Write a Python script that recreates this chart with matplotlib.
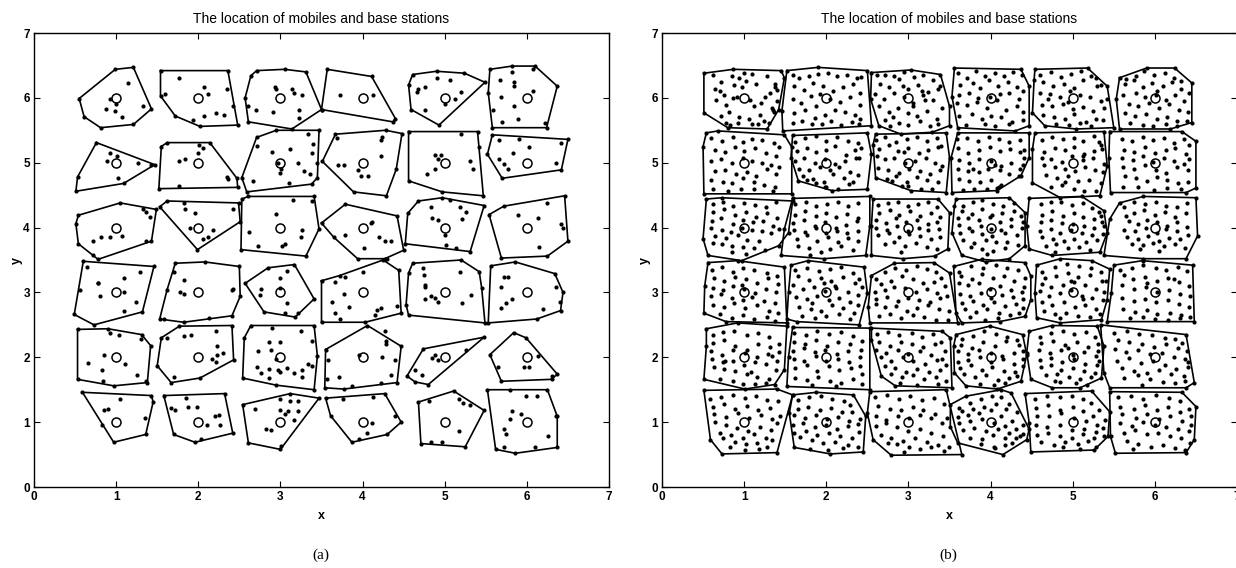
import matplotlib
matplotlib.use("Agg")
import matplotlib.pyplot as plt
import numpy as np

plt.rcParams['font.family'] = ['Liberation Sans', 'DejaVu Sans']

# base stations on a 6 x 6 grid
bs_x = [1, 2, 3, 4, 5, 6]
bs_y = [6, 5, 4, 3, 2, 1]

titulo = "The location of mobiles and base stations"
subtitulos = ["(a)", "(b)"]

# ---- panel (a): cell borders (corner mobiles), row by row from the top ----
hulls_a = [
    [(0.55, 5.99), (0.99, 6.44), (1.21, 6.47), (1.43, 5.83), (1.21, 5.59), (0.81, 5.54), (0.61, 5.71)],
    [(1.54, 6.42), (2.36, 6.42), (2.48, 5.58), (2.02, 5.56), (1.72, 5.72), (1.54, 6.03)],
    [(2.64, 6.34), (2.71, 6.42), (3.05, 6.44), (3.31, 6.40), (3.50, 5.82), (3.14, 5.52), (2.61, 5.63), (2.57, 6.00)],
    [(3.57, 6.44), (4.11, 6.33), (4.40, 5.68), (4.37, 5.63), (3.50, 5.82)],
    [(4.56, 6.20), (4.61, 6.36), (4.90, 6.41), (5.24, 6.38), (5.49, 6.24), (4.93, 5.58), (4.59, 5.82)],
    [(5.53, 6.08), (5.55, 6.44), (5.82, 6.49), (6.10, 6.49), (6.37, 6.18), (6.24, 5.54), (5.58, 5.54)],
    [(0.76, 5.31), (1.47, 4.97), (1.09, 4.68), (0.51, 4.56), (0.53, 4.78)],
    [(1.55, 5.25), (1.62, 5.31), (2.14, 5.31), (2.47, 4.76), (2.48, 4.62), (1.52, 4.60)],
    [(2.53, 4.77), (2.71, 5.39), (2.95, 5.50), (3.47, 5.50), (3.45, 4.77), (3.38, 4.67), (2.59, 4.55)],
    [(3.51, 5.02), (3.67, 5.44), (4.28, 5.50), (4.48, 5.45), (4.41, 4.90), (4.29, 4.49), (3.89, 4.55)],
    [(4.56, 5.48), (5.40, 5.48), (5.47, 4.49), (4.97, 4.55), (4.56, 4.72)],
    [(5.52, 5.13), (5.58, 5.43), (6.50, 5.36), (6.42, 4.89), (5.70, 4.76)],
    [(0.51, 4.06), (0.54, 4.19), (1.05, 4.38), (1.49, 4.28), (1.43, 3.79), (0.78, 3.51), (0.54, 3.75)],
    [(1.53, 4.32), (1.62, 4.41), (2.49, 4.38), (2.51, 4.09), (1.99, 3.66)],
    [(2.53, 4.44), (2.61, 4.48), (3.41, 4.48), (3.47, 3.98), (3.31, 3.56), (2.52, 3.66)],
    [(3.50, 4.07), (3.79, 4.36), (4.42, 4.18), (4.50, 3.65), (4.27, 3.52), (3.94, 3.52), (3.65, 3.85)],
    [(4.55, 4.22), (4.68, 4.41), (4.97, 4.46), (5.48, 4.34), (5.31, 3.63), (4.52, 3.75)],
    [(5.54, 4.20), (5.72, 4.33), (6.46, 4.49), (6.50, 3.79), (6.25, 3.56), (5.69, 3.53)],
    [(0.60, 3.48), (1.46, 3.40), (1.32, 2.70), (0.73, 2.50), (0.49, 2.66)],
    [(1.62, 3.04), (1.72, 3.45), (2.08, 3.47), (2.50, 3.40), (2.51, 2.94), (2.41, 2.64), (1.82, 2.54), (1.53, 2.59)],
    [(2.57, 3.14), (2.85, 3.38), (3.17, 3.43), (3.41, 2.90), (3.18, 2.62), (2.80, 2.70)],
    [(3.50, 3.18), (3.72, 3.26), (4.25, 3.50), (4.44, 3.34), (4.47, 2.68), (4.03, 2.54), (3.50, 2.54)],
    [(4.53, 2.81), (4.56, 3.30), (4.61, 3.45), (5.20, 3.50), (5.42, 3.32), (5.45, 3.07), (5.49, 2.53), (4.56, 2.65)],
    [(5.53, 2.53), (5.56, 3.41), (5.86, 3.47), (6.34, 3.29), (6.44, 3.00), (6.41, 2.72), (6.12, 2.59)],
    [(0.53, 2.43), (0.90, 2.44), (1.31, 2.35), (1.42, 2.18), (1.38, 1.61), (0.97, 1.56), (0.53, 1.66)],
    [(1.55, 2.30), (1.77, 2.48), (2.41, 2.49), (2.43, 1.96), (2.02, 1.68), (1.67, 1.61), (1.50, 1.87)],
    [(2.56, 2.30), (2.64, 2.49), (3.41, 2.49), (3.45, 2.02), (3.41, 1.50), (2.95, 1.57), (2.54, 1.68)],
    [(3.55, 2.12), (4.06, 2.49), (4.47, 2.17), (4.42, 1.61), (3.77, 1.51), (3.54, 1.53)],
    [(4.74, 2.13), (5.48, 2.31), (4.80, 1.58), (4.64, 1.62), (4.54, 1.71)],
    [(5.55, 2.04), (5.84, 2.38), (5.99, 2.30), (6.37, 1.74), (6.30, 1.66), (5.69, 1.63)],
    [(0.59, 1.46), (1.43, 1.41), (1.45, 1.31), (1.36, 0.81), (0.97, 0.69)],
    [(1.58, 1.41), (2.32, 1.44), (2.42, 0.83), (1.96, 0.69), (1.70, 0.81)],
    [(2.54, 1.27), (3.12, 1.44), (3.47, 1.37), (3.00, 0.58), (2.61, 0.68)],
    [(3.55, 1.37), (4.27, 1.44), (4.47, 1.00), (4.30, 0.81), (3.87, 0.69), (3.61, 1.10)],
    [(4.68, 1.31), (5.11, 1.48), (5.48, 1.18), (5.25, 0.62), (4.71, 0.67)],
    [(5.52, 1.50), (6.25, 1.50), (6.37, 1.09), (6.37, 0.61), (5.86, 0.52), (5.62, 0.58)],
]

# other mobiles inside the cells of panel (a)
mobiles_a = [
    [(1.14, 6.23), (0.93, 5.98), (0.88, 5.83), (0.99, 5.80), (1.07, 5.70), (1.33, 5.87), (1.00, 5.90)],
    [(1.77, 6.30), (2.07, 6.16), (2.12, 6.06), (2.35, 6.13), (1.60, 6.06), (2.07, 5.72), (2.22, 5.76), (2.31, 5.74), (1.93, 5.66), (2.42, 5.88)],
    [(2.93, 6.17), (3.14, 6.13), (3.16, 6.08), (3.26, 6.04), (2.61, 5.87), (2.70, 5.81), (2.91, 5.78), (3.23, 5.81), (3.22, 5.69), (2.95, 6.14)],
    [(3.73, 6.04), (4.13, 6.04)],
    [(4.90, 6.30), (5.07, 6.27), (4.76, 6.17), (4.68, 6.13), (4.66, 6.09), (5.12, 5.99), (5.20, 6.09), (5.00, 5.90), (4.76, 5.81)],
    [(5.67, 6.28), (5.82, 6.40), (5.84, 6.25), (5.84, 6.18), (6.07, 6.44), (5.68, 6.01), (5.84, 5.87), (6.08, 6.10), (5.59, 5.81), (5.70, 5.63), (5.89, 5.67), (6.22, 5.62)],
    [(0.93, 5.15), (1.01, 5.11), (0.89, 5.03), (1.27, 5.00), (1.02, 4.76), (1.43, 4.96)],
    [(2.01, 5.28), (2.06, 5.22), (2.00, 5.15), (1.77, 5.03), (1.84, 5.05), (2.35, 4.78), (2.36, 4.75), (1.77, 4.64)],
    [(2.71, 5.26), (2.90, 5.17), (3.12, 5.21), (3.33, 5.44), (3.40, 5.29), (3.38, 5.15), (3.21, 5.00), (3.29, 4.87), (3.36, 4.83),
     (3.01, 4.90), (2.99, 4.84), (3.11, 4.68), (2.66, 4.72), (2.97, 4.99), (3.44, 4.99)],
    [(3.69, 5.38), (4.24, 5.40), (4.23, 5.35), (3.70, 4.97), (3.77, 4.97), (4.23, 5.11), (3.95, 4.88), (3.98, 4.80), (4.07, 4.80)],
    [(5.20, 5.45), (4.88, 5.12), (4.96, 5.12), (4.92, 5.06), (4.88, 4.90), (4.78, 4.82), (5.31, 5.03), (5.35, 4.90), (5.42, 5.24)],
    [(5.66, 5.35), (5.91, 5.37), (6.02, 5.25), (5.83, 5.15), (5.66, 5.06), (5.72, 4.98), (5.77, 4.91), (6.36, 5.00), (6.41, 5.30)],
    [(1.33, 4.28), (1.36, 4.24), (1.41, 4.16), (0.72, 3.80), (0.82, 3.86), (0.92, 3.86), (1.07, 3.87), (1.36, 3.79), (0.72, 3.57)],
    [(1.83, 4.38), (1.84, 4.29), (1.96, 4.23), (2.42, 4.29), (1.90, 4.00), (2.18, 3.96), (2.12, 3.85), (2.06, 3.83)],
    [(3.15, 4.42), (3.38, 4.41), (2.94, 4.21), (2.62, 3.93), (3.26, 3.96), (3.25, 3.85), (2.73, 3.72), (3.02, 3.72), (3.06, 3.74)],
    [(4.10, 4.07), (3.79, 3.88), (4.11, 4.08), (4.20, 3.85), (4.27, 3.80), (4.35, 3.80), (4.02, 3.69), (4.30, 3.51)],
    [(4.83, 4.32), (5.07, 4.43), (5.19, 4.31), (5.26, 4.24), (4.84, 4.15), (4.92, 4.12), (5.21, 4.13), (5.00, 3.88), (5.02, 3.73), (5.14, 3.69)],
    [(5.89, 4.19), (6.13, 4.14), (6.24, 4.38), (6.42, 4.06), (6.44, 4.00), (6.15, 3.70)],
    [(0.64, 3.39), (1.09, 3.22), (1.29, 3.32), (0.78, 3.15), (0.56, 3.03), (0.80, 2.95), (1.09, 3.00), (1.24, 2.85), (1.09, 2.71), (0.78, 3.14)],
    [(1.70, 3.32), (1.82, 3.19), (2.42, 3.06), (1.78, 3.00), (1.83, 2.98), (2.41, 3.03), (2.13, 2.61), (1.58, 2.59)],
    [(3.00, 3.23), (3.08, 3.33), (2.76, 3.06), (2.99, 3.07), (3.08, 2.83), (3.05, 2.68), (3.21, 2.68), (2.75, 2.96)],
    [(3.67, 3.16), (3.79, 3.24), (4.01, 3.32), (3.77, 2.98), (3.63, 2.85), (3.84, 2.78), (4.18, 2.73), (4.22, 2.76), (4.42, 2.79),
     (3.72, 2.59), (4.15, 2.65), (3.67, 2.68)],
    [(4.73, 3.37), (4.75, 3.27), (4.76, 3.11), (5.19, 3.32), (4.83, 2.94), (4.88, 2.91), (4.92, 2.86), (4.76, 2.90), (5.32, 2.96), (5.21, 2.83), (4.76, 3.09)],
    [(5.72, 3.24), (5.77, 3.24), (5.69, 3.08), (5.74, 2.84), (5.82, 2.90), (5.69, 2.76), (6.35, 3.09), (6.40, 2.86), (6.20, 2.74)],
    [(0.92, 2.37), (1.04, 2.35), (1.30, 2.28), (0.85, 2.03), (0.66, 1.91), (0.83, 1.80), (1.11, 1.90), (1.25, 1.73), (0.84, 1.63), (1.36, 1.63)],
    [(1.83, 2.33), (1.91, 2.35), (2.22, 2.40), (1.62, 2.30), (2.23, 2.17), (2.23, 2.03), (2.30, 2.06), (2.17, 1.98), (2.22, 1.92), (1.70, 1.70)],
    [(2.90, 2.45), (3.25, 2.40), (2.86, 2.23), (2.99, 2.24), (2.73, 2.09), (2.89, 2.12), (2.95, 1.98), (3.38, 2.25), (2.71, 1.85),
     (2.86, 1.82), (2.97, 1.81), (3.08, 1.84), (3.26, 1.81), (3.33, 1.89), (3.38, 1.87), (2.76, 1.76), (2.86, 1.68), (3.17, 1.76),
     (3.26, 1.70), (2.99, 1.77)],
    [(4.27, 2.40), (4.28, 2.25), (4.28, 2.21), (3.96, 2.03), (4.24, 2.00), (4.39, 1.96), (3.58, 1.96), (3.71, 1.70), (3.57, 1.66),
     (4.35, 1.72), (3.87, 1.56), (4.22, 1.61)],
    [(4.84, 1.99), (4.88, 2.04), (4.92, 1.96), (4.64, 1.81), (4.72, 1.72), (5.26, 2.12)],
    [(5.65, 1.85), (5.96, 1.85), (6.03, 1.85), (6.13, 2.02), (6.31, 1.71)],
    [(1.05, 1.35), (0.90, 1.21), (0.85, 1.18), (1.35, 1.07), (0.83, 0.95)],
    [(1.67, 1.22), (1.72, 1.19), (1.88, 1.24), (1.98, 1.24), (1.85, 1.37), (2.10, 0.95), (2.20, 1.09), (2.25, 1.11), (2.26, 0.95), (2.03, 0.74)],
    [(2.69, 1.20), (2.99, 1.35), (3.12, 1.33), (3.21, 1.33), (3.00, 1.19), (3.09, 1.17), (3.06, 1.12), (3.21, 1.17), (2.83, 0.90),
     (2.89, 0.88), (3.01, 0.63), (3.17, 1.04)],
    [(3.76, 1.35), (4.13, 1.38), (4.11, 0.98), (4.06, 0.83), (3.96, 0.74), (4.39, 1.09)],
    [(5.18, 1.35), (5.22, 1.30), (5.31, 1.26), (5.18, 0.86), (4.83, 0.70), (4.97, 0.70), (4.81, 1.33)],
    [(5.79, 1.50), (5.99, 1.41), (6.12, 1.41), (5.82, 1.17), (5.79, 1.05), (5.93, 1.12), (5.72, 0.89), (5.74, 0.81), (5.72, 0.61),
     (6.10, 0.62), (6.26, 0.78), (6.36, 1.10)],
]

# ---- panel (b): cell borders, same order ----
hulls_b = [
    [(0.51, 6.38), (0.87, 6.44), (1.45, 6.42), (1.49, 6.31), (1.42, 5.82), (1.28, 5.52), (0.80, 5.54), (0.51, 5.77)],
    [(1.52, 6.42), (1.90, 6.47), (2.50, 6.42), (2.55, 5.57), (1.47, 5.49), (1.46, 5.80)],
    [(2.55, 6.39), (3.03, 6.43), (3.39, 6.36), (3.50, 5.87), (3.50, 5.57), (3.29, 5.47), (2.91, 5.44), (2.64, 5.57), (2.54, 5.98)],
    [(3.56, 6.46), (4.37, 6.44), (4.47, 6.18), (4.47, 5.57), (4.30, 5.49), (3.60, 5.54), (3.53, 6.02)],
    [(4.54, 6.44), (5.18, 6.46), (5.42, 6.18), (5.50, 5.54), (5.04, 5.52), (4.66, 5.57), (4.51, 5.77), (4.53, 6.28)],
    [(5.57, 6.31), (5.90, 6.46), (6.24, 6.46), (6.45, 6.23), (6.45, 5.62), (6.19, 5.52), (5.57, 5.52), (5.53, 5.98)],
    [(0.54, 5.46), (0.68, 5.49), (1.49, 5.43), (1.58, 5.24), (1.58, 4.52), (0.51, 4.52), (0.50, 5.25)],
    [(1.59, 5.42), (2.50, 5.46), (2.55, 5.13), (2.50, 4.59), (2.07, 4.57), (1.66, 4.72), (1.57, 5.08)],
    [(2.60, 5.44), (3.46, 5.46), (3.50, 5.08), (3.46, 4.54), (3.03, 4.57), (2.60, 4.77), (2.57, 5.28)],
    [(3.60, 5.46), (4.47, 5.46), (4.47, 5.08), (4.37, 4.80), (4.08, 4.57), (3.53, 4.54), (3.52, 5.08)],
    [(4.54, 5.46), (5.38, 5.48), (5.42, 4.95), (5.33, 4.49), (4.85, 4.46), (4.51, 4.69), (4.51, 5.21)],
    [(5.45, 5.48), (6.33, 5.48), (6.50, 5.33), (6.50, 4.61), (6.38, 4.54), (5.46, 4.54), (5.44, 5.08)],
    [(0.54, 4.44), (0.73, 4.46), (1.59, 4.41), (1.54, 3.92), (1.42, 3.72), (0.97, 3.49), (0.56, 3.57), (0.50, 3.83)],
    [(1.59, 4.45), (2.53, 4.48), (2.53, 4.03), (2.48, 3.57), (1.97, 3.52), (1.45, 3.57), (1.49, 3.98)],
    [(2.57, 4.44), (3.36, 4.44), (3.50, 4.23), (3.48, 3.67), (3.32, 3.56), (2.93, 3.52), (2.55, 3.57), (2.55, 4.03)],
    [(3.58, 4.44), (4.23, 4.46), (4.42, 4.23), (4.42, 3.72), (4.23, 3.52), (3.94, 3.47), (3.65, 3.57), (3.53, 3.92), (3.56, 4.33)],
    [(4.47, 4.45), (5.11, 4.48), (5.38, 4.26), (5.42, 3.92), (5.33, 3.62), (4.75, 3.57), (4.47, 3.67), (4.44, 4.03)],
    [(5.57, 4.38), (5.86, 4.48), (6.50, 4.46), (6.52, 3.87), (6.38, 3.52), (5.86, 3.52), (5.38, 3.57), (5.45, 4.13)],
    [(0.56, 3.46), (0.92, 3.49), (1.49, 3.39), (1.52, 2.53), (0.78, 2.55), (0.51, 2.68), (0.52, 3.10)],
    [(1.57, 3.42), (1.78, 3.49), (2.46, 3.39), (2.50, 2.99), (2.40, 2.50), (1.64, 2.55), (1.52, 2.59), (1.54, 3.00)],
    [(2.55, 3.26), (2.83, 3.45), (3.31, 3.46), (3.50, 3.30), (3.60, 2.53), (2.53, 2.53), (2.51, 2.78)],
    [(3.55, 3.40), (3.89, 3.51), (4.42, 3.46), (4.49, 3.25), (4.49, 2.89), (4.42, 2.63), (4.11, 2.55), (3.65, 2.53), (3.58, 2.68)],
    [(4.56, 3.42), (4.85, 3.52), (5.23, 3.49), (5.45, 3.36), (5.42, 2.89), (5.35, 2.58), (4.85, 2.53), (4.56, 2.61), (4.54, 2.99)],
    [(5.50, 3.42), (5.85, 3.49), (6.46, 3.42), (6.48, 2.55), (5.42, 2.55), (5.47, 2.99)],
    [(0.54, 2.44), (0.92, 2.53), (1.52, 2.48), (1.49, 1.81), (1.37, 1.58), (1.01, 1.51), (0.51, 1.66), (0.54, 2.17)],
    [(1.59, 2.46), (2.53, 2.45), (2.53, 1.50), (1.52, 1.55), (1.54, 2.01)],
    [(2.55, 2.45), (3.41, 2.40), (3.51, 2.30), (3.53, 1.53), (2.84, 1.56), (2.67, 1.71), (2.55, 2.27)],
    [(3.58, 2.35), (3.99, 2.48), (4.39, 2.35), (4.44, 2.04), (4.37, 1.63), (4.08, 1.51), (3.70, 1.56), (3.56, 1.76), (3.55, 2.17)],
    [(4.47, 2.40), (4.75, 2.49), (5.30, 2.48), (5.38, 2.17), (5.35, 1.68), (5.09, 1.53), (4.75, 1.53), (4.49, 1.66), (4.44, 2.07)],
    [(5.34, 2.50), (6.38, 2.35), (6.48, 1.61), (6.38, 1.53), (5.45, 1.53), (5.38, 1.76)],
    [(0.51, 1.49), (1.40, 1.51), (1.59, 1.42), (1.40, 0.53), (0.73, 0.51), (0.59, 0.73)],
    [(1.59, 1.42), (1.88, 1.46), (2.33, 1.42), (2.48, 1.09), (2.45, 0.54), (2.05, 0.51), (1.61, 0.61), (1.55, 1.14)],
    [(2.53, 1.47), (3.46, 1.50), (3.65, 0.50), (2.79, 0.49), (2.57, 0.73), (2.50, 1.14)],
    [(3.51, 1.27), (3.70, 1.40), (4.13, 1.50), (4.25, 1.45), (4.47, 0.89), (4.44, 0.73), (4.15, 0.50), (3.60, 0.68), (3.51, 0.93)],
    [(4.42, 1.44), (5.23, 1.48), (5.45, 1.16), (5.43, 0.78), (5.26, 0.57), (4.49, 0.54), (4.47, 0.99)],
    [(5.45, 1.47), (6.33, 1.46), (6.50, 1.24), (6.48, 0.73), (6.38, 0.53), (5.52, 0.52), (5.46, 0.78)],
]

# other mobiles of panel (b): "xxyy" = place inside the unit cell around the
# base station, in hundredths from the cell's lower-left corner
mobiles_b = [
    "1286 2275 3584 4480 6087 7884 8871 9062 1464 2655 3870 5276 6472 8258 9045 1647 2839 4151 5746 7042 8434 8628 3128 4421 5617 6924 8012 2812 4312 5909 7415 3650 6237 4767 7552 2061 5088 8766 2222 6710 3308 8531",
    "0986 1781 2984 4087 5288 6383 7586 8780 9282 1168 2362 3473 4669 5861 7066 8372 9157 0948 1942 3153 4256 5549 6744 7951 9139 1127 2431 3619 4823 6032 7328 8524 9118 1011 2014 3209 4510 5615 6808 8113 9009 3838",
    "1285 2286 3384 4590 5782 6885 8077 8869 1572 2666 3879 5063 6270 7459 8663 0956 2049 3258 4451 5642 6854 8046 9135 1438 2628 3734 4926 6122 7330 8518 2216 3812 5008 6414 7606 8610 3121 5537 4368 7047 2806 6661",
    "1088 2180 3291 4384 5589 6683 7790 8885 1370 2873 3765 4877 5968 7174 8267 9060 1155 2458 3550 4952 6256 7358 8449 0942 2139 3443 4635 5846 6932 8238 9028 1222 2725 3918 5122 6320 7613 8916 2008 4310 5507 7209",
    "1085 2390 3682 4887 6092 7283 7880 1474 2669 3971 5165 6277 7968 8570 1058 2256 3552 4760 5955 7151 8445 9248 1339 2537 3841 5033 6336 7529 8834 1424 2721 4017 5225 6613 7818 8716 3010 4608 5912 7207 2048 4444",
    "1579 2784 3792 4986 6288 7380 8276 1471 2477 3667 4773 6069 7175 8263 9157 1155 2758 3851 5154 6447 7554 8645 1840 3037 4342 5535 6740 7932 9028 1427 2622 3925 5218 6521 7715 8914 2012 3608 4807 6310 7706 5260",
    "1088 2384 3690 4882 6087 7285 8680 9274 1570 2766 3975 5068 6372 7765 8960 1052 2255 3549 4857 5953 7250 8346 9243 1537 2739 4032 5335 6530 7840 8933 1024 2421 3518 4826 6220 7416 8712 1210 3006 4609 6209 8506",
    "1282 2488 3791 5083 6389 7684 8880 9272 1468 2673 3866 5070 6176 7462 8569 9058 1253 2357 3650 4955 6148 7352 8657 1741 2938 4244 5539 6643 7936 8831 2229 3425 4720 5832 7127 8320 3719 5012 6409 7817 4912 2724",
    "1185 2290 3582 4887 6089 7284 8588 9076 1471 2677 3768 4973 6365 7470 8675 1260 2255 3358 4649 5853 7157 8250 9145 1342 2538 3834 5141 6437 7632 8939 2425 3529 4821 6128 7323 8620 4214 5014 6509 7909 3022 4566",
    "0986 2188 3583 4890 6087 7382 8685 9170 1072 2365 3669 4974 6268 7471 8666 9158 1154 2449 3656 5052 6345 7550 8947 1041 2337 3635 4740 6138 7333 8429 1225 2422 3720 5024 6316 6013 1708 3010 4609 5811 2940 5547 8641",
    "1285 2590 3886 5188 6383 7691 8282 8477 1566 2872 4069 5275 6463 7668 8671 1257 2455 3751 4960 6254 7558 8848 1546 2843 4140 5337 6544 7739 8736 1831 3127 4430 5722 7024 8419 2412 3716 5110 6406 7807 4020 6260",
    "1087 2283 3590 4885 6188 7381 8686 9277 1370 2567 3874 5065 6369 7572 8864 9156 1058 2354 3661 4851 6157 7353 8648 1144 2441 3847 5139 6434 7743 9038 1430 2726 4022 5328 6524 7819 9021 1113 3012 4908 6511 8209",
    "1286 2489 3783 5088 6385 7682 8989 1274 2578 3970 5274 6567 7872 9065 1160 2264 3656 4862 6158 7360 8552 9248 1049 2347 3443 4750 6046 7244 8341 1537 2834 4238 5431 6830 1226 2325 3522 4920 6218 7515 3512 5209",
    "1286 2590 3884 5187 6489 7783 8988 1270 2475 3768 5073 6266 7571 8865 1057 2361 3653 4958 6250 7454 8760 1146 2443 3749 5042 6345 7541 8844 1433 2638 3930 5235 6428 7734 8929 1622 2919 4312 5517 6821 8215 3008",
    "1385 2588 3790 5083 6286 7489 8582 1472 2777 3970 5275 6468 7773 8966 1061 2357 3564 4758 6162 7455 8559 1150 2447 3652 5045 6349 7446 8748 1338 2641 3935 5140 6437 7732 8936 2125 3328 4622 5926 7220 8517 4112",
    "1683 2889 4092 5386 6584 7888 1575 2771 4078 5269 6473 7976 1064 2365 3661 4967 6259 7563 8768 9058 1154 2450 3853 5048 6346 7553 8849 1342 2745 3940 5237 6842 8238 1731 3026 4431 5628 7027 8323 2620 3917 5314 6819 4610",
    "1186 2489 3690 4985 6288 7480 8274 8468 1270 2576 3868 5173 6367 7663 8658 1159 2462 3757 5055 6453 7649 8852 1045 2348 3542 4846 6141 7438 8740 1335 2632 3930 5133 6627 7931 1722 3025 4418 5820 7115 2812",
    "1282 2589 3886 5190 6484 7781 8988 1568 2473 3777 5069 6274 7566 8872 1860 2956 4162 5358 6553 7759 8951 1347 2644 3950 5242 6448 7745 9039 1636 2933 4237 5530 6734 8032 2225 3523 4826 6121 7424 8719 3217 5514",
    "1185 2389 3682 4887 6284 7880 9075 1372 2668 3974 5270 6665 7972 9163 1257 2453 3760 5055 6349 7756 8950 1044 2247 3541 4839 6043 7437 8834 1231 2528 3833 5126 6630 8022 9118 2016 3511 4815 6209 7812 8706 4762",
    "1284 2788 4183 5586 6889 8280 9070 1575 2969 4373 5667 7074 8564 9358 1061 2256 3559 4852 6257 7651 8946 1343 2640 3945 5338 6642 7935 8830 1728 3125 4422 5730 7026 8419 2114 3610 5013 6517 7909 4765 3333 6060",
    "1070 2282 3488 4784 6090 7286 8381 9072 1663 2967 4275 5570 6864 8166 9560 0951 2154 3358 4657 5951 7256 8549 9745 1140 2443 3737 5042 6339 7635 8941 1032 2227 3529 4822 6126 7430 8724 9921 1413 2816 4110 5515 6912 8308 9808",
    "1282 2690 4187 5693 7088 8385 9273 1476 2770 4078 5372 6676 7968 9159 1164 2361 3665 4956 6260 7554 8850 1348 2545 3849 5141 6446 7743 9040 1534 2837 4131 5436 6729 8132 9026 1925 3220 4624 6018 7415 8519 2512 4308 5910",
    "1282 2889 4394 5891 7287 8581 9067 1673 3075 4480 5774 7177 8668 1263 2458 3862 5166 6561 7855 8850 1052 2145 3549 4853 6145 7442 8739 1236 2530 3935 5327 6531 7824 1522 2916 4218 5614 7112 8316 3510 4868 6340",
    "0884 2288 3692 5188 6485 7889 8983 1277 2371 3874 5268 6673 7966 9160 1062 2555 3958 5351 6754 8148 9345 1041 2437 3840 5135 6639 7932 9228 1124 2620 4023 5316 6818 8215 9312 2010 3612 5009 6607 8110 4164 7370",
    "1285 2489 3891 5384 6787 8082 9270 1272 2676 3968 5362 6771 8166 9358 1059 2354 3761 5156 6650 7955 9044 1148 2442 3645 5038 6342 7740 8930 1335 2532 3929 5324 6620 8016 2016 3613 4909 6309 7711 2745 5827 8452",
    "1188 2584 3990 5386 6889 8283 9375 1173 2470 3877 5168 6474 7970 9262 1060 2365 3658 4962 6355 7759 9150 1147 2344 3752 5045 6448 7842 9137 1233 2638 3929 5336 6631 8034 9324 1218 2615 4020 5414 6811 8217 9309 3207 6206",
    "1286 2589 3984 5487 6782 8086 9074 1473 2768 4174 5470 6866 8270 9559 1062 2357 3762 5055 6459 7854 9148 1650 2945 4350 5644 7040 8546 9638 2137 3434 4728 6132 7527 8831 2924 4220 5523 6916 8319 9613 4011 6008 8609",
    "1578 2883 4290 5686 7081 8276 1469 2765 4173 5568 6975 8469 9059 1060 2255 3661 5057 6452 7856 8948 1043 2346 3750 5142 6547 7940 8936 1334 2638 3931 5235 6629 8027 1824 3120 4523 5915 7318 8221 3709 5407 6711",
    "1082 2387 3891 5286 6689 7782 8170 1172 2675 4069 5573 6866 8160 0962 2257 3661 5054 6458 7852 8244 1046 2449 3743 5147 6540 7938 1135 2338 3631 5033 6429 7726 1722 3124 4520 5916 7219 3412 5410 6708 4464 2813",
    "0088 1690 3186 4684 6280 7578 8372 0577 1874 3470 4966 6371 7865 8960 0263 1558 2962 4455 5957 7351 8748 9042 0445 1949 3341 4844 6238 7632 9035 1033 2529 4026 5530 7024 8521 1318 2922 4416 6012 7411 8713 3407",
    "0886 2289 3692 5187 6490 7884 9182 1273 2678 3970 5375 6768 8172 9460 1362 2858 4264 5657 7061 8455 9049 1450 2846 4141 5536 6942 8338 2034 3430 4826 6231 7626 8422 2425 3920 5216 6618 7812 3312 5107 6809",
    "1584 2988 4390 5786 7183 7977 1670 2874 4268 5672 6966 8165 9155 1161 2457 3861 5155 6458 7852 8947 0945 2249 3642 5046 6340 7744 9035 1134 2537 3930 5333 6729 8125 1827 3222 4618 6120 7614 8912 3009 5207 7010",
    "0988 2492 3886 5290 6684 8187 9378 1375 2771 4168 5574 6869 8263 9756 1060 2353 3759 5156 6461 7856 9148 1044 2348 3642 5037 6440 7734 9229 1630 2926 4321 5825 7219 8614 9911 3616 5112 6408 7811 9305 4404 2518",
    "1272 2580 3886 5290 6389 7378 1567 2871 4274 5678 6970 8266 1058 2361 3664 5068 6360 7652 8945 1149 2552 3955 5448 6744 8140 9032 1638 3041 4437 5939 7333 8629 2526 3924 5330 6725 8126 3816 5412 6714 7618 5510",
    "0486 1990 3488 4991 6386 7279 8269 0572 2076 3569 5073 6367 7560 8954 0760 2159 3664 5256 6652 8046 8741 0546 1942 3445 4938 6440 7835 8828 0730 2034 3529 4926 6232 7626 1119 2715 4019 5616 6921 7812 3811 5909",
    "0588 2190 3686 5192 6787 8082 9271 0774 2470 3877 5368 6673 8065 9459 1062 2757 4163 5555 6960 8352 9445 0848 2244 3650 5046 6442 7839 9236 1233 2638 4031 5434 6829 8226 9318 1621 3016 4512 6014 7510 2308 8707",
]


def puntos_b(k, texto):
    # turn a cell's code string into data coordinates
    cx = bs_x[k % 6] - 0.5
    cy = bs_y[k // 6] - 0.5
    xs, ys = [], []
    for c in texto.split():
        xs.append(cx + int(c[:2]) / 100.0)
        ys.append(cy + int(c[2:]) / 100.0)
    return xs, ys


def dibujar(ax, hulls, mx, my, ms):
    for poly in hulls:
        px = [p[0] for p in poly] + [poly[0][0]]
        py = [p[1] for p in poly] + [poly[0][1]]
        ax.plot(px, py, color='k', lw=1.2, solid_joinstyle='miter')
        ax.plot(px[:-1], py[:-1], 'o', color='k', ms=ms, mew=0)
    ax.plot(mx, my, 'o', color='k', ms=ms, mew=0)
    gx, gy = np.meshgrid(bs_x, bs_y)
    ax.plot(gx.ravel(), gy.ravel(), 'o', mfc='none', mec='k', ms=6.5, mew=1.1)

    ax.set_xlim(0, 7)
    ax.set_ylim(0, 7)
    ax.set_xticks(range(8))
    ax.set_yticks(range(8))
    ax.tick_params(direction='in', top=True, right=True, length=4, width=0.8,
                   labelsize=8.5, pad=3)
    for t in ax.get_xticklabels() + ax.get_yticklabels():
        t.set_fontweight('bold')
    for s in ax.spines.values():
        s.set_linewidth(1.0)
    ax.set_xlabel('x', fontsize=9, fontweight='bold', labelpad=5)
    ax.set_ylabel('y', fontsize=9, fontweight='bold', labelpad=0.5)
    ax.set_title(titulo, fontsize=10, pad=7)


fig = plt.figure(figsize=(12.36, 5.68), dpi=100)
fig.patch.set_facecolor('white')

ax_a = fig.add_axes([34 / 1236, 81 / 568, 575 / 1236, 454 / 568])
ax_b = fig.add_axes([662 / 1236, 81 / 568, 575 / 1236, 454 / 568])

# panel (a)
xa = [p[0] for cel in mobiles_a for p in cel]
ya = [p[1] for cel in mobiles_a for p in cel]
dibujar(ax_a, hulls_a, xa, ya, 3.0)

# panel (b)
xb, yb = [], []
for k, texto in enumerate(mobiles_b):
    xs, ys = puntos_b(k, texto)
    xb += xs
    yb += ys
dibujar(ax_b, hulls_b, xb, yb, 3.0)

fig.text(321 / 1236, 1 - 555 / 568, subtitulos[0], family='Liberation Serif',
         fontsize=11, ha='center', va='center')
fig.text(948 / 1236, 1 - 555 / 568, subtitulos[1], family='Liberation Serif',
         fontsize=11, ha='center', va='center')

fig.savefig('out.png', dpi=100, facecolor='white')
